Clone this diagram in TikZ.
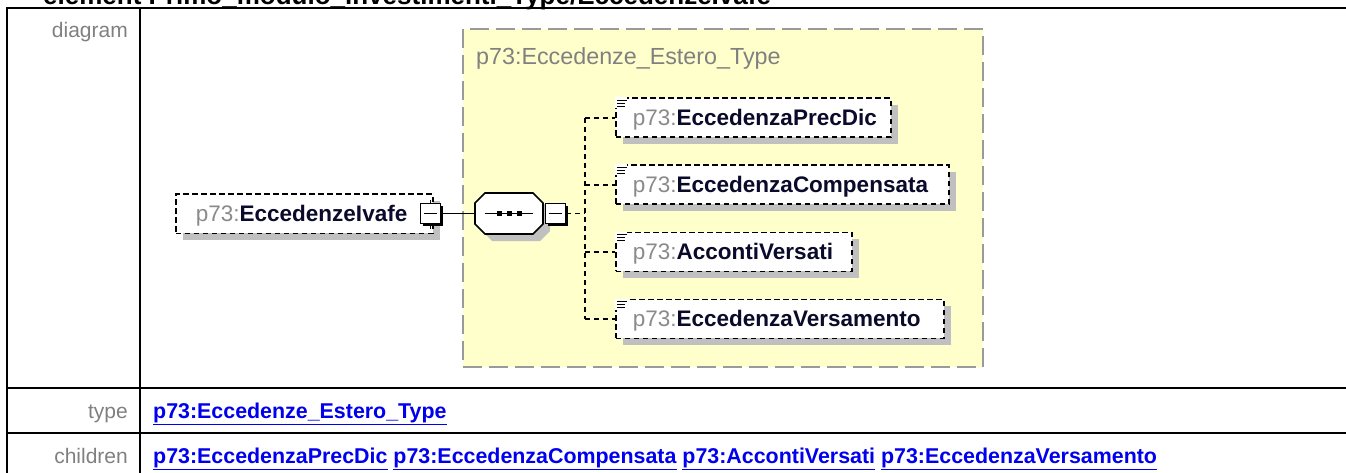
\documentclass[tikz,border=0pt]{standalone}
\usepackage{fontspec}
\setmainfont{Liberation Sans}
\usetikzlibrary{shadows}
\definecolor{labgray}{HTML}{808080}
\definecolor{linkblue}{HTML}{0000EE}
\definecolor{ybg}{HTML}{FFFFCC}
\definecolor{yborder}{HTML}{9A9A9A}
\definecolor{shgray}{HTML}{C0C0C0}
\definecolor{pfx}{HTML}{8A8A8A}
\definecolor{nm}{HTML}{0A0A2A}
\begin{document}
\begin{tikzpicture}[x=1pt,y=-1pt,
  tline/.style={line width=2.5pt,line cap=rect},
  lbl/.style={anchor=base east,inner sep=0,text=labgray,font=\fontsize{21}{25}\selectfont},
  lnk/.style={anchor=base west,inner sep=0,text=linkblue,font=\bfseries\fontsize{21.4}{25}\selectfont},
  elem/.style={draw=black,fill=white,line width=1.8pt,dash pattern=on 5.5pt off 3.5pt,
    anchor=north west,minimum height=39,inner ysep=0,text height=16,text depth=0,
    align=left,text=nm,font=\fontsize{22.5}{26}\selectfont,
    drop shadow={shadow xshift=7pt,shadow yshift=-7pt,fill=shgray,opacity=1}},
  minusbox/.style={draw=black,fill=white,line width=1.6pt,minimum size=20,inner sep=0,
    drop shadow={shadow xshift=2.5pt,shadow yshift=-2.5pt,fill=black,opacity=1}},
  conn/.style={line width=1.6pt},
  dconn/.style={line width=1.7pt,dash pattern=on 5pt off 4pt},
  icon/.style={line width=1.3pt}
]
\useasboundingbox (0,0) rectangle (1346,473);
\clip (0,0) rectangle (1346,473);

% heading (clipped at the top, as in the reference)
\node[anchor=base west,inner sep=0,font=\bfseries\fontsize{26}{30}\selectfont] (head) at (43,5)
  {element Primo\_modulo\_investimenti\_Type/EccedenzeIvafe};

% table rules
\draw[tline] (7,8) -- (1346,8);
\draw[tline] (7,388) -- (1346,388);
\draw[tline] (7,433) -- (1346,433);
\draw[tline] (7,8) -- (7,473);
\draw[tline] (140,8) -- (140,473);

% row labels
\node[lbl] (ldiag) at (128,38) {diagram};
\node[lbl] (ltype) at (128,418) {type};
\node[lbl] (lchild) at (128,463) {children};

% links
\node[lnk] (ktype) at (153,418) {\underline{p73:Eccedenze\_Estero\_Type}};
\node[lnk] (kchild) at (153,463) {\underline{p73:EccedenzaPrecDic} \underline{p73:EccedenzaCompensata} \underline{p73:AccontiVersati} \underline{p73:EccedenzaVersamento}};

% complex type box
\node[draw=yborder,fill=ybg,line width=2pt,dash pattern=on 19pt off 7pt,
  minimum width=520,minimum height=338,anchor=north west,inner sep=0] (tbox) at (462,28) {};
\node[anchor=base west,inner sep=0,text=labgray,font=\fontsize{23.3}{27}\selectfont] (ttl) at (476,65)
  {p73:Eccedenze\_Estero\_Type};

% main element
\node[elem,inner xsep=20,text width=217] (main) at (175,193.5)
  {\mbox{{\color{pfx}p73:}\textbf{EccedenzeIvafe}}};
\node[minusbox] (m1) at (430.5,213.5) {};
\draw[line width=1.5pt] ([xshift=4pt]m1.west) -- ([xshift=-4pt]m1.east);
\draw[line width=1.5pt] (m1.north) -- ++(0,-3);
\draw[line width=1.5pt] (m1.south) -- ++(0,5);

% sequence compositor
\fill[shgray,shift={(7,7)}] (485,193)--(533,193)--(543,203)--(543,224)--(533,234)--(485,234)--(475,224)--(475,203)--cycle;
\draw[line width=1.6pt,fill=white] (485,193)--(533,193)--(543,203)--(543,224)--(533,234)--(485,234)--(475,224)--(475,203)--cycle;
\node[inner sep=0,minimum width=68,minimum height=41] (seq) at (509,213.5) {};
\draw[line width=1.5pt] ([xshift=10pt]seq.west) -- ([xshift=-10pt]seq.east);
\fill (496.5,211) rectangle +(5,5);
\fill (506.5,211) rectangle +(5,5);
\fill (516.5,211) rectangle +(5,5);
\node[minusbox] (m2) at (555.5,213.5) {};
\draw[line width=1.5pt] ([xshift=4pt]m2.west) -- ([xshift=-4pt]m2.east);

\draw[conn] (m1.east) -- (seq.west);

% children
\node[elem,inner xsep=17,text width=241] (c1) at (615,97.5)
  {\mbox{{\color{pfx}p73:}\textbf{EccedenzaPrecDic}}};
\node[elem,inner xsep=17,text width=299] (c2) at (615,164.5)
  {\mbox{{\color{pfx}p73:}\textbf{EccedenzaCompensata}}};
\node[elem,inner xsep=17,text width=202] (c3) at (615,231.5)
  {\mbox{{\color{pfx}p73:}\textbf{AccontiVersati}}};
\node[elem,inner xsep=17,text width=294] (c4) at (615,298.5)
  {\mbox{{\color{pfx}p73:}\textbf{EccedenzaVersamento}}};

\foreach \c in {c1,c2,c3,c4}{
  \fill[white] ([shift={(0,0)}]\c.north west) rectangle ([shift={(12,11)}]\c.north west);
  \draw[icon] ([shift={(2,3)}]\c.north west) -- ++(10,0);
  \draw[icon] ([shift={(2,6)}]\c.north west) -- ++(8,0);
  \draw[icon] ([shift={(2,9)}]\c.north west) -- ++(8,0);
}

% connectors
\coordinate (spine) at (585,213.5);
\draw[dconn] (m2.east) -- (spine);
\draw[dconn] (spine |- c1.west) -- (spine |- c4.west);
\foreach \c in {c1,c2,c3,c4}{
  \draw[dconn] (spine |- \c.west) -- (\c.west);
}
\end{tikzpicture}
\end{document}
